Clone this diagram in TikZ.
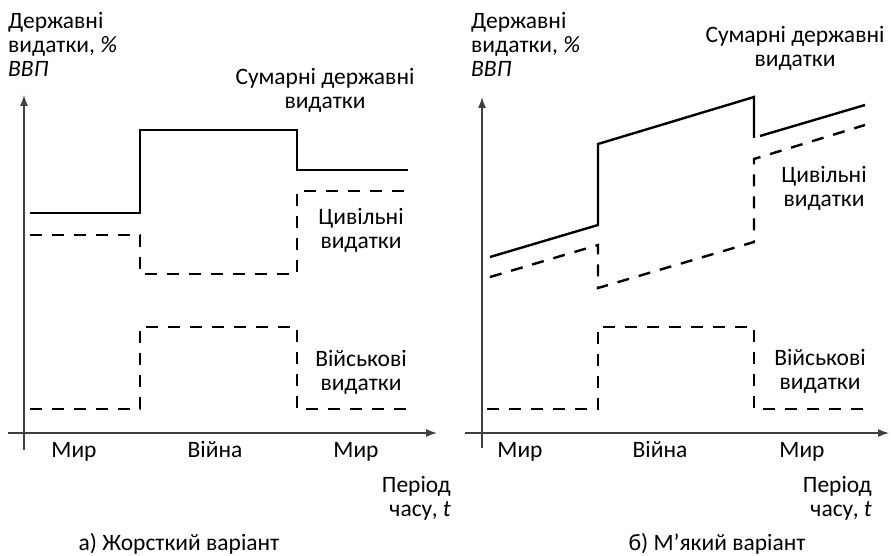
\documentclass[tikz,border=0pt]{standalone}
\usepackage{fontspec}
\setmainfont{Carlito}
\usetikzlibrary{arrows.meta}

\begin{document}
\begin{tikzpicture}[x=1pt,y=-1pt,
  axis/.style={line width=1.3pt,draw=black!75,-{Latex[length=11pt,width=8pt]}},
  total/.style={line width=2.4pt,line join=miter},
  part/.style={line width=2.4pt,dash pattern=on 12pt off 10pt},
  lbl/.style={font=\fontsize{23.5}{24}\selectfont,align=center,inner sep=0pt},
]
\useasboundingbox (0,0) rectangle (893,556);

% ---------------- a) rigid variant ----------------
\coordinate (a-o1) at (24,450);
\coordinate (a-y) at (24,95);
\coordinate (a-o2) at (8,433);
\coordinate (a-x) at (437,433);
\draw[axis] (a-o1) -- (a-y);
\draw[axis] (a-o2) -- (a-x);

\draw[total] (30,213) -- (140,213) -- (140,130) -- (297,130) -- (297,170) -- (408,170);
\draw[part] (30,235) -- (140,235) -- (140,274) -- (297,274) -- (297,191) -- (408,191);
\draw[part] (30,409) -- (140,409) -- (140,327) -- (297,327) -- (297,409) -- (408,409);

\node[lbl,align=left,anchor=north west] (a-ylab) at (8,12) {Державні\\видатки, \textit{\%}\\\textit{ВВП}};
\node[lbl] (a-tot) at (325,90) {Сумарні державні\\видатки};
\node[lbl] (a-civ) at (361,230) {Цивільні\\видатки};
\node[lbl] (a-mil) at (361,372) {Військові\\видатки};
\node[lbl,anchor=base] (a-p1) at (74,457) {Мир};
\node[lbl,anchor=base] (a-w) at (215,457) {Війна};
\node[lbl,anchor=base] (a-p2) at (356,457) {Мир};
\node[lbl,align=right,anchor=north east] (a-t) at (451,476) {Період\\часу, \textit{t}};
\node[lbl,anchor=base] (a-cap) at (179,550) {а) Жорсткий варіант};

% ---------------- b) soft variant ----------------
\coordinate (b-o1) at (482,448);
\coordinate (b-y) at (482,97);
\coordinate (b-o2) at (465,433);
\coordinate (b-x) at (889,433);
\draw[axis] (b-o1) -- (b-y);
\draw[axis] (b-o2) -- (b-x);

\draw[total] (490,257) -- (598,225) -- (598,144) -- (754,97) -- (754,138)
             (760,136) -- (865,105);
\draw[part] (490,277) -- (598,245) -- (598,288) -- (754,242) -- (754,159) -- (865,125);
\draw[part] (487,409) -- (598,409) -- (598,327) -- (754,327) -- (754,409) -- (867,409);

\node[lbl,align=left,anchor=north west] (b-ylab) at (471,12) {Державні\\видатки, \textit{\%}\\\textit{ВВП}};
\node[lbl] (b-tot) at (795,48) {Сумарні державні\\видатки};
\node[lbl] (b-civ) at (824,188) {Цивільні\\видатки};
\node[lbl] (b-mil) at (820,371) {Військові\\видатки};
\node[lbl,anchor=base] (b-p1) at (520,457) {Мир};
\node[lbl,anchor=base] (b-w) at (660,457) {Війна};
\node[lbl,anchor=base] (b-p2) at (802,457) {Мир};
\node[lbl,align=right,anchor=north east] (b-t) at (872,476) {Період\\часу, \textit{t}};
\node[lbl,anchor=base] (b-cap) at (717,550) {б) М’який варіант};
\end{tikzpicture}
\end{document}
